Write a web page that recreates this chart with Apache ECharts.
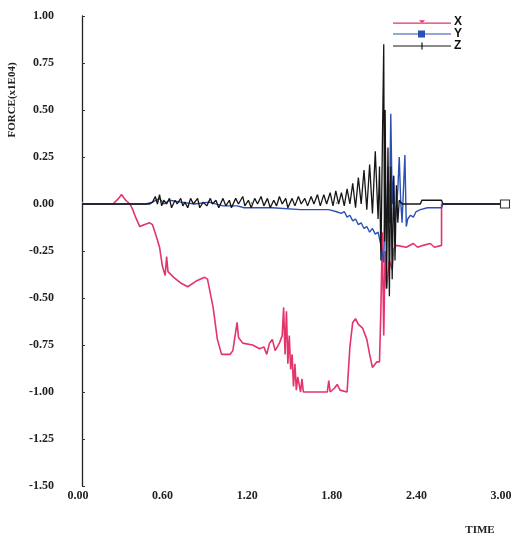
<!DOCTYPE html>
<html>
<head>
<meta charset="utf-8">
<script src="https://cdn.jsdelivr.net/npm/echarts@6/dist/echarts.min.js"></script>
<style>html,body{margin:0;padding:0;background:#fff;}#c{width:515px;height:539px;}</style>
</head>
<body>
<div id="c"></div>
<script>
// ---- data (time s, force x1E04) ----
const seriesNames = ['X', 'Y', 'Z'];
const xTicks = [0, 0.6, 1.2, 1.8, 2.4, 3.0];
const yTicks = [1.0, 0.75, 0.5, 0.25, 0, -0.25, -0.5, -0.75, -1.0, -1.25, -1.5];

const forceX = [
  [0,0],[0.22,0],[0.26,0.03],[0.28,0.05],[0.31,0.02],[0.34,0],[0.36,-0.03],[0.38,-0.07],[0.41,-0.12],
  [0.44,-0.11],[0.48,-0.10],[0.50,-0.11],[0.53,-0.18],[0.55,-0.23],[0.57,-0.33],[0.59,-0.38],[0.60,-0.28],
  [0.61,-0.36],[0.65,-0.39],[0.70,-0.42],[0.75,-0.44],[0.81,-0.41],[0.87,-0.39],[0.89,-0.40],[0.93,-0.55],
  [0.96,-0.72],[0.99,-0.80],[1.05,-0.80],[1.07,-0.78],[1.10,-0.63],[1.11,-0.71],[1.14,-0.74],[1.21,-0.75],
  [1.26,-0.77],[1.29,-0.76],[1.31,-0.80],[1.33,-0.74],[1.35,-0.72],[1.37,-0.78],[1.40,-0.74],[1.42,-0.70],
  [1.43,-0.55],[1.44,-0.80],[1.45,-0.57],[1.46,-0.85],[1.47,-0.70],[1.48,-0.88],[1.49,-0.80],[1.50,-0.97],
  [1.51,-0.85],[1.52,-0.99],[1.53,-0.92],[1.55,-1.00],[1.56,-0.93],[1.57,-1.00],[1.67,-1.00],[1.74,-1.00],
  [1.75,-0.94],[1.76,-1.00],[1.79,-0.98],[1.81,-0.96],[1.83,-0.99],[1.88,-1.00],[1.90,-0.76],[1.92,-0.63],
  [1.94,-0.61],[1.96,-0.64],[1.99,-0.66],[2.02,-0.72],[2.04,-0.80],[2.06,-0.87],[2.09,-0.84],[2.11,-0.84],
  [2.12,-0.55],[2.13,-0.15],[2.14,-0.70],[2.15,-0.25],[2.16,-0.45],[2.18,-0.30],[2.20,-0.35],[2.21,-0.24],
  [2.23,-0.22],[2.30,-0.23],[2.35,-0.21],[2.38,-0.23],[2.42,-0.22],[2.47,-0.21],[2.50,-0.23],[2.55,-0.22],
  [2.55,0],[3.0,0]
];

const forceY = [
  [0,0],[0.45,0],[0.50,0.01],[0.55,0.03],[0.58,0],[0.62,0.02],[0.70,0.01],[0.80,0],[0.90,0.01],[1.00,-0.01],
  [1.10,-0.01],[1.15,-0.02],[1.35,-0.02],[1.55,-0.03],[1.75,-0.03],[1.80,-0.04],[1.84,-0.05],[1.86,-0.04],
  [1.88,-0.07],[1.90,-0.06],[1.92,-0.09],[1.94,-0.08],[1.96,-0.11],[1.98,-0.10],[2.00,-0.13],[2.02,-0.12],
  [2.04,-0.15],[2.06,-0.13],[2.08,-0.16],[2.10,-0.15],[2.12,-0.22],[2.14,-0.31],[2.15,0.05],[2.16,-0.20],
  [2.17,0.20],[2.18,-0.10],[2.19,0.48],[2.20,0.0],[2.21,0.15],[2.22,-0.12],[2.24,0.08],[2.25,0.25],
  [2.26,0.02],[2.27,-0.10],[2.29,0.26],[2.30,-0.12],[2.31,-0.08],[2.33,-0.06],[2.35,-0.07],[2.37,-0.04],
  [2.40,-0.03],[2.45,-0.02],[2.50,-0.02],[2.55,-0.02],[2.56,0],[3.0,0]
];

const forceZ = [
  [0,0],[0.48,0],[0.50,0.01],[0.52,0.04],[0.535,0.0],[0.55,0.05],[0.565,-0.01],[0.58,0.02],[0.60,0.0],
  [0.62,0.03],[0.635,-0.02],[0.66,0.02],[0.675,0.0],[0.70,0.03],[0.715,-0.01],[0.73,0.01],[0.75,-0.02],
  [0.77,0.03],[0.79,0.0],[0.82,0.03],[0.835,-0.02],[0.86,0.01],[0.885,-0.01],[0.91,0.03],[0.925,0.0],
  [0.95,0.02],[0.97,-0.02],[1.00,0.03],[1.02,-0.01],[1.045,0.02],[1.06,-0.02],[1.09,0.03],[1.11,0.0],
  [1.14,0.04],[1.155,-0.01],[1.18,0.02],[1.20,-0.02],[1.225,0.03],[1.245,0.0],[1.27,0.04],[1.29,-0.01],
  [1.315,0.03],[1.335,-0.02],[1.36,0.02],[1.38,-0.01],[1.40,0.04],[1.42,0.0],[1.445,0.03],[1.46,-0.02],
  [1.49,0.03],[1.51,-0.01],[1.535,0.04],[1.555,0.0],[1.58,0.03],[1.60,-0.01],[1.625,0.04],[1.645,0.0],
  [1.67,0.05],[1.69,-0.01],[1.715,0.05],[1.735,0.0],[1.76,0.06],[1.78,-0.01],[1.80,0.07],[1.82,0.0],
  [1.84,0.06],[1.86,-0.01],[1.88,0.08],[1.90,0.0],[1.92,0.11],[1.94,-0.02],[1.96,0.14],[1.98,0.0],
  [2.00,0.18],[2.02,-0.03],[2.04,0.21],[2.06,-0.05],[2.08,0.28],[2.10,-0.08],
  [2.11,0.20],[2.12,-0.30],[2.13,0.30],[2.14,0.85],[2.145,-0.20],[2.15,0.50],[2.16,-0.45],[2.17,0.30],
  [2.18,-0.49],[2.19,0.20],[2.20,-0.40],[2.21,0.15],[2.22,-0.30],[2.23,0.10],[2.24,-0.10],[2.25,0.02],
  [2.27,0],[2.40,0],[2.41,0.02],[2.55,0.02],[2.56,0],[3.0,0]
];

const colors = ['#e5336c', '#2c4fb6', '#161616'];
const legendIcons = [
  'path://M0,3.4h58v1.2h-58z M26,1L29,4L32,1z',
  'path://M0,3.4h58v1.2h-58z M25,0.5h7v7h-7z',
  'path://M0,3.4h58v1.2h-58z M28.4,0.5h1.2v7h-1.2z'
];

function withEndMarker(arr) {
  return arr.map((p, i) => i === arr.length - 1
    ? { value: p, symbol: 'rect', symbolSize: [9, 8], itemStyle: { color: '#fff', borderColor: '#333', borderWidth: 1 } }
    : p);
}

const chart = echarts.init(document.getElementById('c'), null, { renderer: 'canvas' });
const serif = 'Liberation Serif';
chart.setOption({
  backgroundColor: '#fff',
  animation: false,
  grid: { left: 82, right: 10, top: 16, bottom: 53 },
  legend: {
    orient: 'vertical',
    left: 388,
    top: 11,
    itemWidth: 58,
    itemHeight: 8,
    itemGap: 0,
    textStyle: { fontFamily: 'Liberation Sans', fontWeight: 'bold', fontSize: 12, color: '#111', padding: [0, 0, 0, -2] },
    data: seriesNames.map((n, i) => ({ name: n, icon: legendIcons[i], itemStyle: { color: colors[i] } }))
  },
  xAxis: {
    type: 'value',
    min: 0, max: 3.0, interval: 0.6,
    axisLine: { show: false },
    axisTick: { show: true, inside: true, length: 2, lineStyle: { color: '#999' } },
    splitLine: { show: false },
    axisLabel: {
      margin: 4,
      padding: [0, 8, 0, 0],
      fontFamily: serif, fontWeight: 'bold', fontSize: 12, color: '#222',
      formatter: v => { const t = xTicks.find(k => Math.abs(k - v) < 1e-6); return t === undefined ? '' : t.toFixed(2); }
    }
  },
  yAxis: {
    type: 'value',
    min: -1.5, max: 1.0, interval: 0.25,
    axisLine: { show: true, onZero: false, lineStyle: { color: '#222', width: 1.3 } },
    axisTick: { show: true, inside: true, length: 3, lineStyle: { color: '#333' } },
    splitLine: { show: false },
    axisLabel: {
      margin: 28,
      fontFamily: serif, fontWeight: 'bold', fontSize: 12, color: '#222',
      formatter: v => { const t = yTicks.find(k => Math.abs(k - v) < 1e-6); return t === undefined ? '' : t.toFixed(2); }
    }
  },
  graphic: [
    { type: 'text', x: 12, y: 100, rotation: Math.PI / 2, style: { text: 'FORCE(x1E04)', fontFamily: serif, fontWeight: 'bold', fontSize: 11, fill: '#222', textAlign: 'center', textVerticalAlign: 'middle' } },
    { type: 'text', x: 480, y: 530, style: { text: 'TIME', fontFamily: serif, fontWeight: 'bold', fontSize: 11, fill: '#222', textAlign: 'center', textVerticalAlign: 'middle' } }
  ],
  series: [
    { name: 'X', type: 'line', data: forceX, symbol: 'none', lineStyle: { width: 1.6, color: colors[0] }, itemStyle: { color: colors[0] }, z: 2 },
    { name: 'Y', type: 'line', data: forceY, symbol: 'none', lineStyle: { width: 1.4, color: colors[1] }, itemStyle: { color: colors[1] }, z: 3 },
    { name: 'Z', type: 'line', data: withEndMarker(forceZ), symbol: 'none', showSymbol: true, lineStyle: { width: 1.3, color: colors[2] }, itemStyle: { color: colors[2] }, z: 4 }
  ]
});
</script>
</body>
</html>
